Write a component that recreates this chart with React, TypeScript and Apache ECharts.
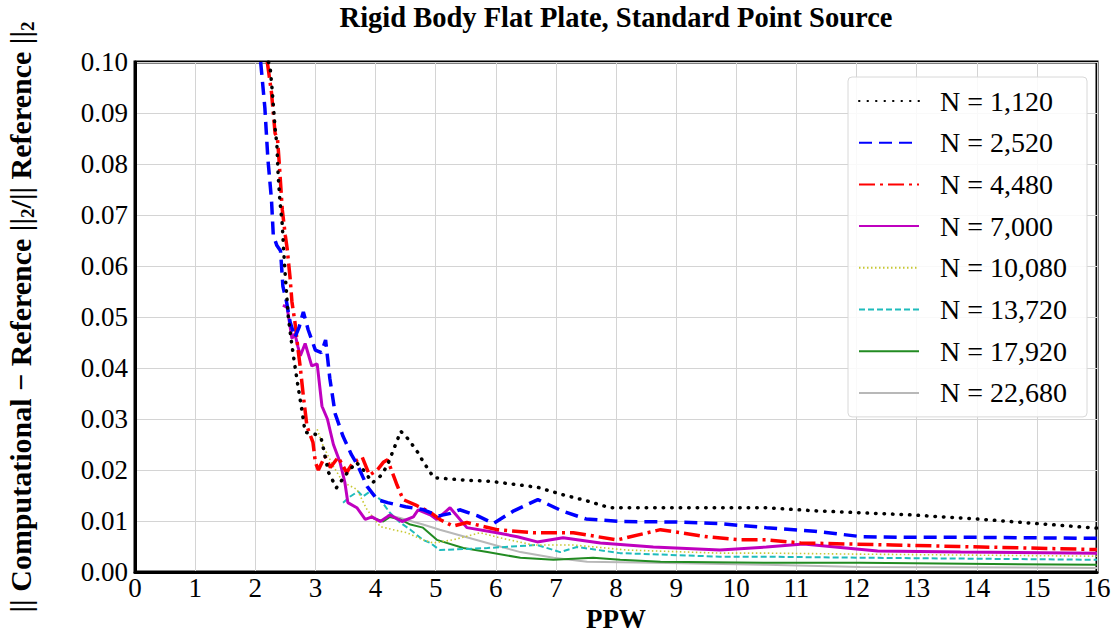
import React, { useEffect, useRef } from "react";
import * as echarts from "echarts";

const FONT = '"Liberation Serif", "Times New Roman", serif';

const seriesNames = [
  "N = 1,120",
  "N = 2,520",
  "N = 4,480",
  "N = 7,000",
  "N = 10,080",
  "N = 13,720",
  "N = 17,920",
  "N = 22,680",
];

const xTicks = [0, 1, 2, 3, 4, 5, 6, 7, 8, 9, 10, 11, 12, 13, 14, 15, 16];
const yTicks = [0, 0.01, 0.02, 0.03, 0.04, 0.05, 0.06, 0.07, 0.08, 0.09, 0.1];

const n1120 = [
  [2.22, 0.1], [2.25, 0.0986], [2.28, 0.0947], [2.33, 0.087], [2.36, 0.0838], [2.38, 0.078],
  [2.41, 0.0728], [2.45, 0.068], [2.47, 0.0635], [2.5, 0.058], [2.55, 0.05], [2.61, 0.0444],
  [2.66, 0.0404], [2.71, 0.0365], [2.78, 0.0314], [2.83, 0.0274], [3.0, 0.027], [3.1, 0.026],
  [3.22, 0.0195], [3.35, 0.0165], [3.5, 0.019], [3.68, 0.0215], [3.8, 0.02], [3.95, 0.0175],
  [4.1, 0.019], [4.2, 0.021], [4.3, 0.024], [4.42, 0.0276], [4.55, 0.026], [4.7, 0.0235],
  [4.8, 0.0215], [4.97, 0.0185], [5.5, 0.018], [5.9, 0.0178], [6.3, 0.0172], [6.7, 0.0166],
  [7.1, 0.0152], [7.5, 0.014], [7.9, 0.0126], [8.5, 0.0126], [9.5, 0.0126], [10.5, 0.0126],
  [11.3, 0.012], [12.1, 0.0116], [12.9, 0.0112], [14.0, 0.0104], [15.0, 0.0095], [16.0, 0.0086],
];

const n2520 = [
  [2.09, 0.1], [2.16, 0.091], [2.21, 0.081], [2.27, 0.073], [2.3, 0.066], [2.36, 0.064],
  [2.42, 0.063], [2.46, 0.056], [2.52, 0.053], [2.58, 0.049], [2.66, 0.046], [2.73, 0.048],
  [2.8, 0.051], [2.88, 0.0475], [3.0, 0.0435], [3.1, 0.043], [3.17, 0.0455], [3.24, 0.038],
  [3.33, 0.031], [3.46, 0.0266], [3.6, 0.023], [3.7, 0.021], [3.86, 0.0168], [4.03, 0.0142],
  [4.2, 0.0136], [4.5, 0.0128], [4.8, 0.0122], [5.05, 0.011], [5.25, 0.0115], [5.4, 0.0122],
  [5.7, 0.011], [5.96, 0.0095], [6.3, 0.012], [6.7, 0.0142], [7.1, 0.012], [7.5, 0.0104],
  [8.1, 0.0099], [9.0, 0.0098], [9.7, 0.0095], [10.5, 0.0087], [11.3, 0.008], [12.1, 0.0069],
  [13.0, 0.0068], [14.0, 0.0068], [15.0, 0.0067], [16.0, 0.0066],
];

const n4480 = [
  [2.2, 0.1], [2.27, 0.094], [2.33, 0.086], [2.37, 0.085], [2.4, 0.08], [2.45, 0.071],
  [2.5, 0.066], [2.53, 0.0635], [2.58, 0.0576], [2.61, 0.053], [2.66, 0.049], [2.71, 0.0438],
  [2.75, 0.04], [2.8, 0.0345], [2.86, 0.0286], [2.96, 0.0254], [3.0, 0.0215], [3.05, 0.02],
  [3.16, 0.0227], [3.25, 0.0205], [3.38, 0.0225], [3.52, 0.0195], [3.63, 0.0215], [3.78, 0.0225],
  [3.9, 0.019], [4.03, 0.02], [4.13, 0.0215], [4.2, 0.022], [4.36, 0.017], [4.46, 0.0142],
  [4.69, 0.013], [4.9, 0.0118], [5.07, 0.0103], [5.29, 0.009], [5.52, 0.0097], [6.02, 0.0083],
  [6.62, 0.0077], [7.29, 0.0077], [8.02, 0.0063], [8.74, 0.0083], [9.52, 0.0069], [10.07, 0.0063],
  [10.5, 0.0063], [11.07, 0.0057], [12.6, 0.0053], [13.7, 0.005], [16.0, 0.0044],
];

const n7000 = [
  [2.46, 0.0523], [2.53, 0.0519], [2.61, 0.0458], [2.66, 0.0467], [2.71, 0.0442], [2.75, 0.0424],
  [2.83, 0.0448], [2.94, 0.0404], [3.03, 0.0408], [3.11, 0.0325], [3.2, 0.03], [3.3, 0.025],
  [3.41, 0.0215], [3.49, 0.0176], [3.54, 0.0136], [3.69, 0.0126], [3.83, 0.0103], [3.94, 0.0108],
  [4.08, 0.0099], [4.24, 0.0112], [4.44, 0.0099], [4.63, 0.0108], [4.71, 0.0122], [4.91, 0.0112],
  [5.02, 0.0103], [5.24, 0.0126], [5.52, 0.0087], [6.02, 0.0077], [6.36, 0.0069], [6.69, 0.0059],
  [7.12, 0.0067], [7.74, 0.0057], [8.62, 0.0049], [9.73, 0.0043], [10.5, 0.0049], [11.12, 0.0055],
  [12.35, 0.0041], [13.73, 0.0039], [16.0, 0.0037],
];

const n10080 = [
  [3.03, 0.028], [3.13, 0.0247], [3.3, 0.0207], [3.46, 0.0176], [3.69, 0.0162], [3.86, 0.0122],
  [4.08, 0.0089], [4.29, 0.0083], [4.52, 0.0077], [4.79, 0.0063], [4.96, 0.0057], [5.29, 0.0063],
  [5.74, 0.0077], [6.07, 0.0067], [6.62, 0.0053], [7.29, 0.0053], [8.19, 0.0043], [9.73, 0.0037],
  [10.5, 0.0037], [12.06, 0.0035], [16.0, 0.0031],
];

const n13720 = [
  [3.46, 0.0136], [3.58, 0.0148], [3.71, 0.0158], [3.79, 0.0148], [3.91, 0.0158], [4.08, 0.0142],
  [4.24, 0.0116], [4.41, 0.0097], [4.58, 0.0083], [4.79, 0.0063], [4.91, 0.0057], [5.07, 0.0043],
  [5.86, 0.0047], [6.69, 0.0053], [7.07, 0.0039], [7.35, 0.0049], [8.07, 0.0037], [9.73, 0.003],
  [10.5, 0.003], [12.06, 0.0028], [16.0, 0.0024],
];

const n17920 = [
  [3.96, 0.0106], [4.13, 0.0099], [4.24, 0.0108], [4.41, 0.0103], [4.58, 0.0093], [4.79, 0.0087],
  [5.02, 0.0063], [5.46, 0.0047], [5.86, 0.0039], [6.41, 0.0028], [6.96, 0.0024], [7.62, 0.0028],
  [8.07, 0.0024], [8.74, 0.002], [10.5, 0.0018], [12.06, 0.0018], [16.0, 0.0014],
];

const n22680 = [
  [4.2, 0.0112], [4.41, 0.0106], [4.79, 0.0093], [5.07, 0.0083], [5.86, 0.0057], [6.41, 0.0039],
  [6.96, 0.0028], [7.52, 0.002], [8.62, 0.0018], [10.5, 0.0014], [12.06, 0.001], [16.0, 0.0008],
];

const seriesData = [n1120, n2520, n4480, n7000, n10080, n13720, n17920, n22680];

const lineStyles: any[] = [
  { color: "#000000", width: 3.5, type: [0.5, 8], cap: "round" },
  { color: "#0000ff", width: 3.5, type: [13, 7] },
  { color: "#ff0000", width: 3.5, type: [16, 5, 3, 5] },
  { color: "#bf00bf", width: 3, type: "solid" },
  { color: "#c8c832", width: 1.6, type: [1.5, 2.5] },
  { color: "#1fbcbc", width: 2, type: [6, 3] },
  { color: "#228b22", width: 2, type: "solid" },
  { color: "#b8b8b8", width: 2, type: "solid" },
];

export default function App() {
  const ref = useRef<HTMLDivElement>(null);
  useEffect(() => {
    if (!ref.current) return;
    const chart = echarts.init(ref.current, null, { renderer: "svg" });
    const option: any = {
      animation: false,
      backgroundColor: "#ffffff",
      title: {
        text: "Rigid Body Flat Plate, Standard Point Source",
        left: 616,
        top: 3,
        padding: 0,
        textAlign: "center",
        textStyle: { fontFamily: FONT, fontWeight: "bold", fontSize: 28.5, color: "#000" },
      },
      legend: {
        left: 848,
        top: 77,
        orient: "vertical",
        padding: [10, 20, 10, 10],
        itemWidth: 60,
        itemHeight: 24,
        itemGap: 13.7,
        backgroundColor: "rgba(255,255,255,0.85)",
        borderColor: "#d8d8d8",
        borderWidth: 1,
        borderRadius: 4,
        itemStyle: { color: "rgba(0,0,0,0)", borderWidth: 0, opacity: 0 },
        textStyle: { fontFamily: FONT, fontSize: 28, color: "#000", padding: [0, 0, 0, 16] },
        data: seriesNames,
      },
      grid: {
        left: 135,
        right: 18,
        top: 62,
        bottom: 61,
        show: true,
        borderColor: "#000",
        borderWidth: 3,
        backgroundColor: "transparent",
        containLabel: false,
        outerBoundsMode: "none",
      },
      xAxis: {
        type: "value",
        min: xTicks[0],
        max: xTicks[xTicks.length - 1],
        interval: 1,
        name: "PPW",
        nameLocation: "middle",
        nameGap: 30,
        nameTextStyle: { fontFamily: FONT, fontWeight: "bold", fontSize: 27, color: "#000" },
        axisLine: { show: true, lineStyle: { color: "#000", width: 3 } },
        axisTick: { show: false },
        axisLabel: { fontFamily: FONT, fontSize: 27, color: "#000", margin: 2 },
        splitLine: { show: true, lineStyle: { color: "#d4d4d4", width: 1 } },
      },
      yAxis: {
        type: "value",
        min: yTicks[0],
        max: yTicks[yTicks.length - 1],
        interval: 0.01,
        name: "{m||| Computational − Reference ||}{s|2}{m|/|| Reference ||}{s|2}",
        nameLocation: "middle",
        nameRotate: 90,
        nameGap: 98,
        nameTextStyle: {
          rich: {
            m: { fontFamily: FONT, fontWeight: "bold", fontSize: 30, color: "#000", lineHeight: 33 },
            s: { fontFamily: FONT, fontWeight: "bold", fontSize: 19, color: "#000", lineHeight: 33, verticalAlign: "bottom" },
          },
        },
        axisLine: { show: true, lineStyle: { color: "#000", width: 3 } },
        axisTick: { show: false },
        axisLabel: {
          fontFamily: FONT,
          fontSize: 27,
          color: "#000",
          margin: 7,
          formatter: (v: number) => v.toFixed(2),
        },
        splitLine: { show: true, lineStyle: { color: "#d4d4d4", width: 1 } },
      },
      series: seriesNames.map((name, i) => ({
        name,
        type: "line",
        data: seriesData[i],
        showSymbol: false,
        symbol: "none",
        lineStyle: lineStyles[i],
        itemStyle: { color: lineStyles[i].color },
        z: 10 - i,
      })),
    };
    chart.setOption(option);
    return () => chart.dispose();
  }, []);
  return (
    <div
      ref={ref}
      style={{ position: "fixed", left: 0, top: 0, width: 1115, height: 633 }}
    />
  );
}
